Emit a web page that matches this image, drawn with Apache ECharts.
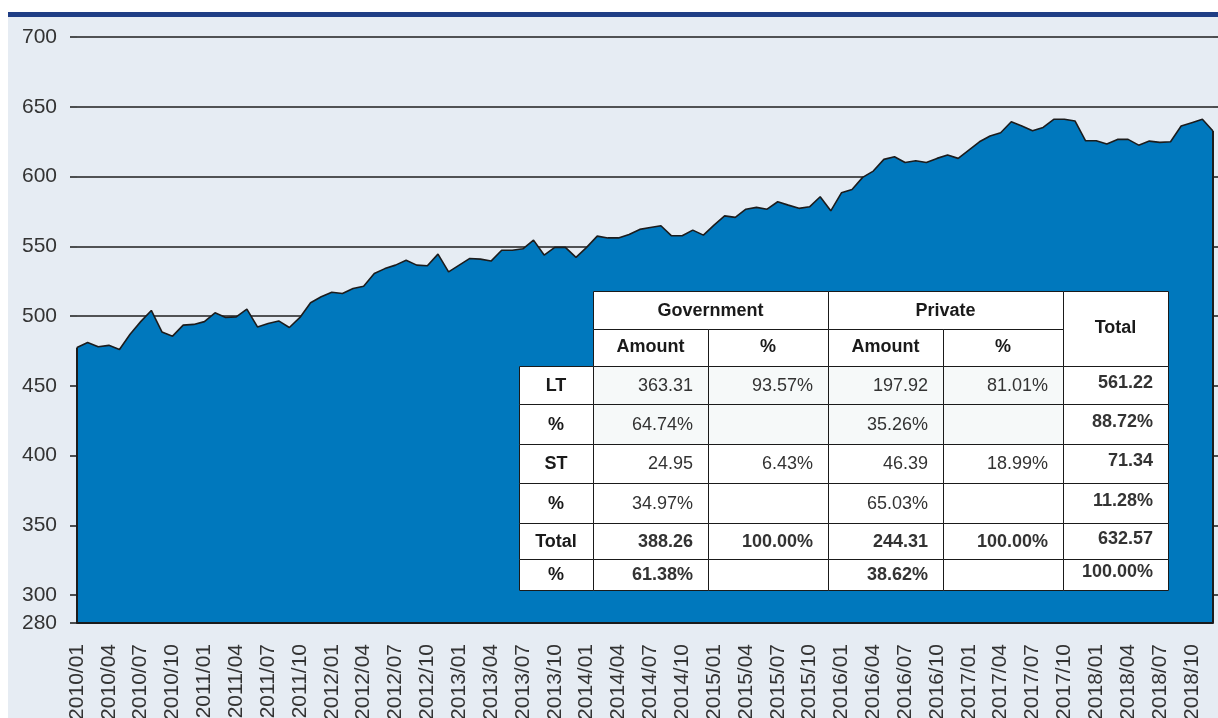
<!DOCTYPE html>
<html>
<head>
<meta charset="utf-8">
<script src="https://cdn.jsdelivr.net/npm/echarts@6/dist/echarts.min.js"></script>
<style>
  html, body { margin: 0; padding: 0; background: #ffffff; }
  .panel { position: absolute; left: 8px; top: 12px; right: 0; bottom: 0;
           background: #e6ecf3; border-top: 5px solid #1f3e85; }
  #chart { position: absolute; left: 0; top: 0; width: 1218px; height: 718px; }
</style>
</head>
<body>
<div class="panel"></div>
<div id="chart"></div>
<script>
// Monthly outstanding amount, 2010/01 – 2018/12
const months = [
  '2010/01','2010/02','2010/03','2010/04','2010/05','2010/06','2010/07','2010/08','2010/09','2010/10','2010/11','2010/12',
  '2011/01','2011/02','2011/03','2011/04','2011/05','2011/06','2011/07','2011/08','2011/09','2011/10','2011/11','2011/12',
  '2012/01','2012/02','2012/03','2012/04','2012/05','2012/06','2012/07','2012/08','2012/09','2012/10','2012/11','2012/12',
  '2013/01','2013/02','2013/03','2013/04','2013/05','2013/06','2013/07','2013/08','2013/09','2013/10','2013/11','2013/12',
  '2014/01','2014/02','2014/03','2014/04','2014/05','2014/06','2014/07','2014/08','2014/09','2014/10','2014/11','2014/12',
  '2015/01','2015/02','2015/03','2015/04','2015/05','2015/06','2015/07','2015/08','2015/09','2015/10','2015/11','2015/12',
  '2016/01','2016/02','2016/03','2016/04','2016/05','2016/06','2016/07','2016/08','2016/09','2016/10','2016/11','2016/12',
  '2017/01','2017/02','2017/03','2017/04','2017/05','2017/06','2017/07','2017/08','2017/09','2017/10','2017/11','2017/12',
  '2018/01','2018/02','2018/03','2018/04','2018/05','2018/06','2018/07','2018/08','2018/09','2018/10','2018/11','2018/12'
];

const outstanding = [
  477.5, 481, 478, 479, 476, 487, 496, 504, 488.6, 485.6, 493.5, 494,
  496, 502.3, 499, 499.4, 504.9, 492.2, 494.7, 496.5, 491.8, 499, 509.5, 513.8,
  517.1, 516.2, 519.8, 521.4, 530.5, 534, 536.5, 540, 536.5, 536, 544.4, 531.7,
  536.5, 541.3, 540.8, 539.4, 547.2, 547.2, 548.2, 554.4, 543.7, 549.2, 549.2, 542,
  549.2, 557.3, 556, 556, 558.5, 562.1, 563.5, 564.7, 557.5, 557.5, 561.6, 558,
  565.2, 571.8, 570.7, 576.6, 577.9, 576.6, 581.9, 579.5, 577.2, 578.3, 585.5, 575.4,
  588.3, 590.7, 599.4, 603.9, 612.3, 614.2, 610.1, 611.3, 610.1, 613, 615.4, 613,
  619, 624.9, 629, 631.4, 639.3, 636.2, 632.8, 635.2, 641, 641, 639.8, 625.6,
  625.6, 623.3, 626.6, 626.6, 622.5, 625.4, 624.5, 624.9, 636.2, 638.6, 641, 632.57
];

const yTickValues = [280, 300, 350, 400, 450, 500, 550, 600, 650, 700];
const yGridValues = [300, 350, 400, 450, 500, 550, 600, 650, 700];
const Y_MIN = 280;

// Summary table (Government / Private / Total)
const tableGroups = ['Government', 'Private'];
const tableSubHeads = ['Amount', '%', 'Amount', '%'];
const tableTotalHead = 'Total';
const rowLabels = ['LT', '%', 'ST', '%', 'Total', '%'];
const govAmount   = ['363.31', '64.74%', '24.95', '34.97%', '388.26', '61.38%'];
const govShare    = ['93.57%', '', '6.43%', '', '100.00%', ''];
const privAmount  = ['197.92', '35.26%', '46.39', '65.03%', '244.31', '38.62%'];
const privShare   = ['81.01%', '', '18.99%', '', '100.00%', ''];
const rowTotal    = ['561.22', '88.72%', '71.34', '11.28%', '632.57', '100.00%'];

const FONT = '"Liberation Sans", Arial, sans-serif';

// table layout
const colX = [519, 593, 708, 828, 943, 1063, 1168];
const rowY = [291, 329, 366, 404, 444, 483, 523, 559, 590];

function cellRect(x0, y0, x1, y1, fill) {
  return {
    type: 'rect', z: 20,
    shape: { x: x0 + 0.5, y: y0 + 0.5, width: x1 - x0, height: y1 - y0 },
    style: { fill: fill, stroke: '#1a1a1a', lineWidth: 1 }
  };
}
function cellText(str, x, y, align, bold, color) {
  return {
    type: 'text', z: 21,
    style: {
      text: str, x: x, y: y, align: align, verticalAlign: 'middle',
      font: (bold ? 'bold ' : '') + '18px ' + FONT, fill: color
    }
  };
}

function buildTable() {
  const els = [];
  // top header: groups
  for (let g = 0; g < tableGroups.length; g++) {
    const x0 = colX[1 + g * 2], x1 = colX[3 + g * 2];
    els.push(cellRect(x0, rowY[0], x1, rowY[1], '#ffffff'));
    els.push(cellText(tableGroups[g], (x0 + x1) / 2, (rowY[0] + rowY[1]) / 2 + 1, 'center', true, '#1a1a1a'));
  }
  els.push(cellRect(colX[5], rowY[0], colX[6], rowY[2], '#ffffff'));
  els.push(cellText(tableTotalHead, (colX[5] + colX[6]) / 2, (rowY[0] + rowY[2]) / 2, 'center', true, '#1a1a1a'));
  // sub header
  for (let c = 0; c < tableSubHeads.length; c++) {
    const x0 = colX[1 + c], x1 = colX[2 + c];
    els.push(cellRect(x0, rowY[1], x1, rowY[2], '#ffffff'));
    els.push(cellText(tableSubHeads[c], (x0 + x1) / 2, (rowY[1] + rowY[2]) / 2, 'center', true, '#1a1a1a'));
  }
  // body
  const cols = [govAmount, govShare, privAmount, privShare];
  for (let r = 0; r < rowLabels.length; r++) {
    const y0 = rowY[r + 2], y1 = rowY[r + 3], yc = (y0 + y1) / 2 + 1;
    const boldRow = r >= 4;
    const tint = r < 2 ? '#f6f9f9' : '#ffffff';
    els.push(cellRect(colX[0], y0, colX[1], y1, '#ffffff'));
    els.push(cellText(rowLabels[r], (colX[0] + colX[1]) / 2, yc, 'center', true, '#1a1a1a'));
    for (let c = 0; c < 4; c++) {
      els.push(cellRect(colX[1 + c], y0, colX[2 + c], y1, tint));
      if (cols[c][r]) {
        els.push(cellText(cols[c][r], colX[2 + c] - 15, yc, 'right', boldRow, '#333333'));
      }
    }
    els.push(cellRect(colX[5], y0, colX[6], y1, '#ffffff'));
    els.push(cellText(rowTotal[r], colX[6] - 15, yc - 3, 'right', true, '#333333'));
  }
  return els;
}

const chart = echarts.init(document.getElementById('chart'), null, { renderer: 'canvas' });

// every 10 units on the grid axis; only the 50-multiples get a visible line
const gridCycle = ['rgba(0,0,0,0)', 'rgba(0,0,0,0)', '#1f1f1f', 'rgba(0,0,0,0)', 'rgba(0,0,0,0)'];

const firstIdx = 0, lastIdx = months.length - 1;

chart.setOption({
  backgroundColor: 'transparent',
  animation: false,
  grid: { left: 77, right: 5, top: 37, bottom: 95, containLabel: false, outerBoundsMode: 'none' },
  xAxis: {
    type: 'category',
    data: months,
    boundaryGap: false,
    z: 3,
    axisLine: { show: true, lineStyle: { color: '#1a1a1a', width: 2 } },
    axisTick: { show: false },
    axisLabel: {
      interval: 2, rotate: 90, margin: 21,
      fontFamily: FONT, fontSize: 21, color: '#333333'
    },
    splitLine: { show: false }
  },
  yAxis: [
    {
      type: 'value', min: Y_MIN, max: 700, interval: 10, position: 'left', z: 3,
      axisLine: { show: false },
      axisTick: { show: true, length: 7, customValues: yTickValues, lineStyle: { color: '#1a1a1a', width: 1.5 } },
      axisLabel: { customValues: yTickValues, margin: 20, fontFamily: FONT, fontSize: 21, color: '#333333' },
      splitLine: { show: false }
    },
    {
      type: 'value', min: Y_MIN, max: 700, interval: 10, position: 'right', z: 3,
      axisLine: { show: false },
      axisTick: { show: true, length: 6, customValues: yGridValues, lineStyle: { color: '#1a1a1a', width: 1.5 } },
      axisLabel: { show: false },
      splitLine: { show: false }
    },
    {
      type: 'value', min: Y_MIN, max: 700, interval: 10, position: 'left', z: 0,
      axisLine: { show: false },
      axisTick: { show: false },
      axisLabel: { show: false },
      splitLine: { show: true, lineStyle: { color: gridCycle, width: 1.5 } }
    }
  ],
  series: [{
    type: 'line',
    data: outstanding,
    yAxisIndex: 0,
    symbol: 'none',
    z: 2,
    lineStyle: { color: '#1c1c1c', width: 1.6 },
    areaStyle: { color: '#0078bd', opacity: 1 },
    // outline of the filled area's two vertical edges
    markLine: {
      silent: true,
      symbol: ['none', 'none'],
      label: { show: false },
      lineStyle: { color: '#1c1c1c', width: 2, type: 'solid' },
      data: [
        [{ coord: [months[firstIdx], Y_MIN] }, { coord: [months[firstIdx], outstanding[firstIdx]] }],
        [{ coord: [months[lastIdx], Y_MIN] }, { coord: [months[lastIdx], outstanding[lastIdx]] }]
      ]
    }
  }],
  graphic: buildTable()
});
</script>
</body>
</html>
